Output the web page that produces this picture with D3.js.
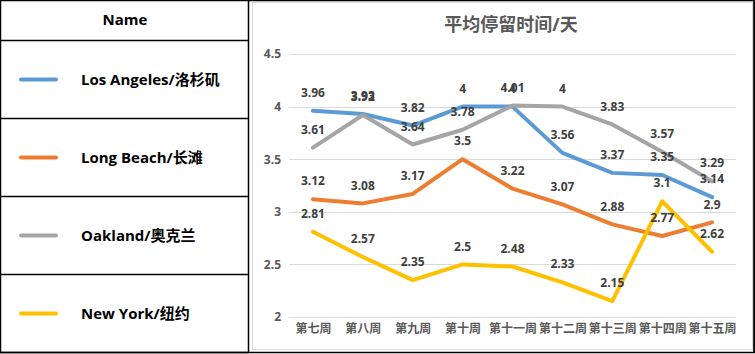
<!DOCTYPE html>
<html><head><meta charset="utf-8">
<script src="https://cdn.jsdelivr.net/npm/d3@7"></script>
<style>
body{margin:0;background:#fff;}
svg{display:block;font-family:"Open Sans","Noto Sans CJK SC",sans-serif;}
</style></head>
<body><svg id="c" width="755" height="354"></svg>
<script>
const categories = ["第七周","第八周","第九周","第十周","第十一周","第十二周","第十三周","第十四周","第十五周"];
const seriesNames = ["Los Angeles/洛杉矶","Long Beach/长滩","Oakland/奥克兰","New York/纽约"];
const seriesColors = ["#5B9BD5","#ED7D31","#A5A5A5","#FFC000"];
const losAngeles = [3.96,3.93,3.82,4,4,3.56,3.37,3.35,3.14];
const longBeach = [3.12,3.08,3.17,3.5,3.22,3.07,2.88,2.77,2.9];
const oakland = [3.61,3.92,3.64,3.78,4.01,4,3.83,3.57,3.29];
const newYork = [2.81,2.57,2.35,2.5,2.48,2.33,2.15,3.1,2.62];
const yTicks = [2,2.5,3,3.5,4,4.5];
const title = "平均停留时间/天";
const headerText = "Name";

const seriesValues = [losAngeles,longBeach,oakland,newYork];
const svg = d3.select("#c");

// outer frame
svg.append("rect").attr("x",0.5).attr("y",0.5).attr("width",754).attr("height",352).attr("fill","none").attr("stroke","#000").attr("stroke-width",1.5);

// legend table
const rowY = [40.5,118.5,196.5,274.5,352.5];
svg.append("line").attr("x1",248.5).attr("x2",248.5).attr("y1",0).attr("y2",353).attr("stroke","#000").attr("stroke-width",1.5);
rowY.forEach(y=>svg.append("line").attr("x1",0).attr("x2",249).attr("y1",y).attr("y2",y).attr("stroke","#000").attr("stroke-width",1.3));
svg.append("text").attr("x",125).attr("y",20).attr("dy","0.35em").attr("text-anchor","middle")
  .attr("font-size",15).attr("font-weight","bold").attr("fill","#000").text(headerText);
seriesNames.forEach((n,i)=>{
  const cy = (rowY[i]+rowY[i+1])/2;
  svg.append("line").attr("x1",21).attr("x2",56).attr("y1",cy).attr("y2",cy)
    .attr("stroke",seriesColors[i]).attr("stroke-width",4).attr("stroke-linecap","round");
  svg.append("text").attr("x",81).attr("y",cy).attr("dy","0.35em").attr("font-size",15)
    .attr("font-weight","bold").attr("fill","#000").text(n);
});

// chart panel
svg.append("rect").attr("x",252.5).attr("y",2.5).attr("width",500).attr("height",347).attr("fill","#fff").attr("stroke","#D9D9D9").attr("stroke-width",1);
svg.append("line").attr("x1",754).attr("x2",754).attr("y1",0).attr("y2",353).attr("stroke","#000").attr("stroke-width",1.5);

svg.append("text").attr("x",511).attr("y",25).attr("dy","0.35em").attr("text-anchor","middle")
  .attr("font-size",18).attr("font-weight","bold").attr("fill","#595959").text(title);

const x = d3.scalePoint().domain(categories).range([288,737]).padding(0.5);
const y = d3.scaleLinear().domain([2,4.5]).range([317,54]);

const grid = svg.append("g");
yTicks.forEach(t=>{
  grid.append("line").attr("x1",289).attr("x2",736).attr("y1",Math.round(y(t))+0.5).attr("y2",Math.round(y(t))+0.5)
    .attr("stroke","#D9D9D9").attr("stroke-width",1);
});

const yAxis = svg.append("g").attr("transform","translate(289,0)")
  .call(d3.axisLeft(y).tickValues(yTicks).tickSize(0).tickPadding(8).tickFormat(d=>String(d)));
yAxis.select(".domain").remove();
yAxis.selectAll("text").attr("font-size",12).attr("font-weight","bold").attr("fill","#595959")
  .attr("font-family","'Open Sans','Noto Sans CJK SC',sans-serif");

const xAxis = svg.append("g").attr("transform","translate(0,320)")
  .call(d3.axisBottom(x).tickSize(0).tickPadding(4));
xAxis.select(".domain").remove();
xAxis.selectAll("text").attr("font-size",12).attr("font-weight","bold").attr("fill","#595959")
  .attr("font-family","'Noto Sans CJK SC',sans-serif");

const line = d3.line().x((d,i)=>x(categories[i])).y(d=>y(d));
seriesValues.forEach((vals,i)=>{
  svg.append("path").datum(vals).attr("d",line).attr("fill","none")
    .attr("stroke",seriesColors[i]).attr("stroke-width",4).attr("stroke-linejoin","round").attr("stroke-linecap","round");
});
seriesValues.forEach((vals,i)=>{
  svg.append("g").selectAll("text").data(vals).join("text")
    .attr("x",(d,j)=>x(categories[j])).attr("y",d=>y(d)-18).attr("dy","0.35em")
    .attr("text-anchor","middle").attr("font-size",12).attr("font-weight","bold").attr("fill","#404040")
    .text(d=>String(d));
});
</script></body></html>
